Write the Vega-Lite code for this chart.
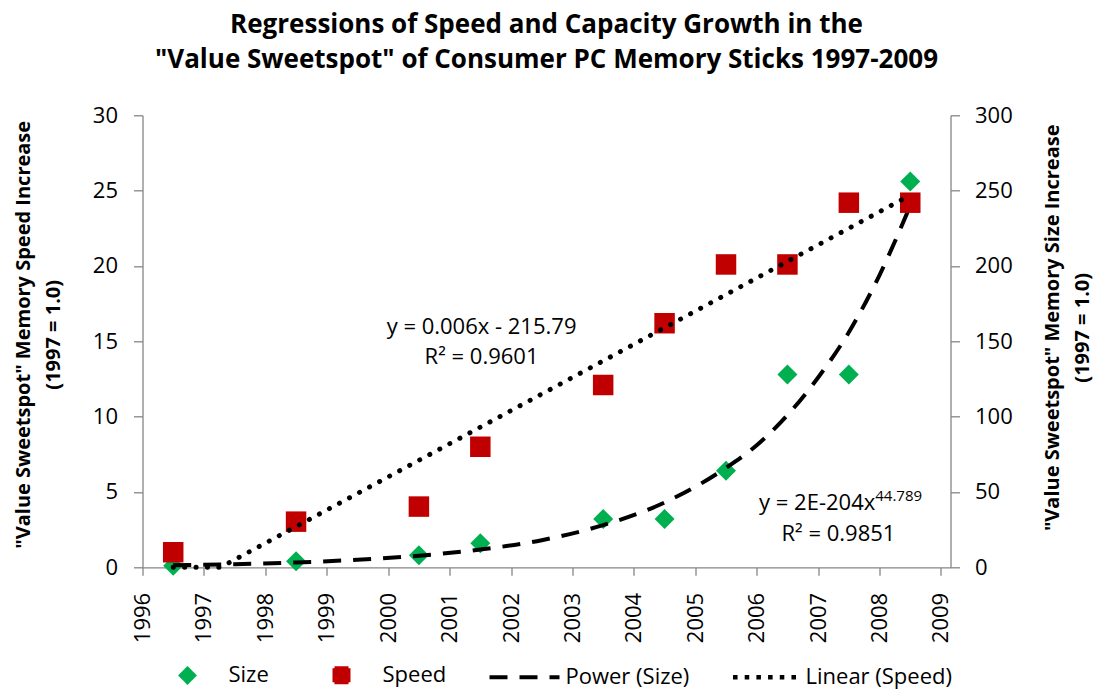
{
  "$schema": "https://vega.github.io/schema/vega-lite/v6.json",
  "width": 808,
  "height": 452,
  "autosize": {"type": "none"},
  "padding": {"left": 142.5, "top": 115.3, "right": 150.5, "bottom": 123.7},
  "background": "white",
  "config": {
    "font": "Open Sans",
    "view": {"stroke": null},
    "axis": {
      "grid": false,
      "domainColor": "#868686",
      "tickColor": "#868686",
      "domainWidth": 1.3,
      "tickWidth": 1.3,
      "labelFont": "Open Sans",
      "labelFontSize": 22,
      "labelColor": "#000000",
      "titleFont": "Open Sans",
      "titleFontSize": 20,
      "titleFontWeight": "bold",
      "titleColor": "#000000",
      "titleLineHeight": 30
    }
  },
  "title": {
    "text": ["Regressions of Speed and Capacity Growth in the", "\"Value Sweetspot\" of Consumer PC Memory Sticks 1997-2009"],
    "font": "Open Sans",
    "fontSize": 26,
    "fontWeight": "bold",
    "lineHeight": 35,
    "offset": 31,
    "anchor": "middle",
    "color": "#000000"
  },
  "datasets": {
    "points": [
      {"year": 1996.5, "speed": 1.0, "size": 1},
      {"year": 1998.5, "speed": 3.03, "size": 4},
      {"year": 2000.5, "speed": 4.03, "size": 8},
      {"year": 2001.5, "speed": 8.0, "size": 16},
      {"year": 2003.5, "speed": 12.1, "size": 32},
      {"year": 2004.5, "speed": 16.2, "size": 32},
      {"year": 2005.5, "speed": 20.1, "size": 64},
      {"year": 2006.5, "speed": 20.1, "size": 128},
      {"year": 2007.5, "speed": 24.2, "size": 128},
      {"year": 2008.5, "speed": 24.2, "size": 256}
    ],
    "power": [
      {"year": 1996.5, "size": 1.4},
      {"year": 1997.5, "size": 2.1},
      {"year": 1998.5, "size": 3.2},
      {"year": 1999.5, "size": 5.0},
      {"year": 2000.5, "size": 7.7},
      {"year": 2001.5, "size": 11.8},
      {"year": 2002.5, "size": 18},
      {"year": 2003.5, "size": 28},
      {"year": 2004.5, "size": 43},
      {"year": 2005.5, "size": 66},
      {"year": 2006.0, "size": 81},
      {"year": 2006.5, "size": 101},
      {"year": 2007.0, "size": 126},
      {"year": 2007.5, "size": 156},
      {"year": 2008.0, "size": 194},
      {"year": 2008.5, "size": 240}
    ],
    "linear": [
      {"year": 1996.5, "speed": 0},
      {"year": 1997.27, "speed": 0},
      {"year": 1998.5, "speed": 2.7},
      {"year": 2000.5, "speed": 7.1},
      {"year": 2002.5, "speed": 11.5},
      {"year": 2004.5, "speed": 15.9},
      {"year": 2006.5, "speed": 20.3},
      {"year": 2008.5, "speed": 24.7}
    ]
  },
  "layer": [
    {
      "layer": [
        {
          "data": {"name": "points"},
          "mark": {"type": "point", "shape": "diamond", "filled": true, "size": 400, "opacity": 1},
          "encoding": {
            "x": {"field": "year", "type": "quantitative", "scale": {"domain": [1996, 2009.155], "nice": false, "zero": false},
              "axis": {"values": [1996, 1997, 1998, 1999, 2000, 2001, 2002, 2003, 2004, 2005, 2006, 2007, 2008, 2009], "format": "d", "labelAngle": -90, "tickSize": 8, "labelPadding": 17, "title": null}},
            "y": {"field": "size", "type": "quantitative", "scale": {"domain": [0, 300], "nice": false},
              "axis": {"orient": "right", "values": [0, 50, 100, 150, 200, 250, 300], "tickSize": 9, "labelPadding": 15,
                "title": ["\"Value Sweetspot\" Memory Size Increase", "(1997 = 1.0)"], "titleAngle": 270, "titlePadding": 20, "titleY": 212}},
            "color": {"datum": "Size", "type": "nominal",
              "scale": {"domain": ["Size", "Speed", "Power (Size)", "Linear (Speed)"], "range": ["#00B050", "#C00000", "#000000", "#000000"]},
              "legend": {
                "title": null,
                "orient": "none",
                "legendX": 8,
                "legendY": 523,
                "direction": "horizontal",
                "symbolSize": 4900,
                "symbolStrokeWidth": 4,
                "symbolType": {"expr": "datum.value === 'Size' ? 'M0,-0.19L0.19,0L0,0.19L-0.19,0Z' : datum.value === 'Speed' ? 'M-0.2,-0.2H0.2V0.2H-0.2Z' : datum.value === 'Power (Size)' ? 'M-1,0H1' : 'M-0.9,-0.065h0.13v0.13h-0.13Z M-0.566,-0.065h0.13v0.13h-0.13Z M-0.232,-0.065h0.13v0.13h-0.13Z M0.102,-0.065h0.13v0.13h-0.13Z M0.436,-0.065h0.13v0.13h-0.13Z M0.77,-0.065h0.13v0.13h-0.13Z'"},
                "symbolStrokeColor": {"expr": "datum.value === 'Size' ? '#00B050' : datum.value === 'Speed' ? '#C00000' : datum.value === 'Power (Size)' ? '#000000' : 'transparent'"},
                "symbolDash": {"expr": "datum.value === 'Power (Size)' ? [18, 12] : datum.value === 'Linear (Speed)' ? [0, 100] : [1, 0]"},
                "symbolOpacity": 1,
                "labelFont": "Open Sans",
                "labelFontSize": 22,
                "labelColor": "#000000",
                "labelOffset": 4,
                "labelLimit": 400,
                "columnPadding": 35
              }
            }
          }
        },
        {
          "data": {"name": "power"},
          "mark": {"type": "line", "strokeWidth": 4, "strokeDash": [18, 12], "interpolate": "monotone"},
          "encoding": {
            "x": {"field": "year", "type": "quantitative"},
            "y": {"field": "size", "type": "quantitative"},
            "color": {"datum": "Power (Size)", "type": "nominal"}
          }
        }
      ]
    },
    {
      "layer": [
        {
          "data": {"name": "points"},
          "mark": {"type": "point", "shape": "square", "filled": true, "size": 420, "opacity": 1},
          "encoding": {
            "x": {"field": "year", "type": "quantitative"},
            "y": {"field": "speed", "type": "quantitative", "scale": {"domain": [0, 30], "nice": false},
              "axis": {"orient": "left", "values": [0, 5, 10, 15, 20, 25, 30], "tickSize": 9, "labelPadding": 16,
                "title": ["\"Value Sweetspot\" Memory Speed Increase", "(1997 = 1.0)"], "titleAngle": 270, "titlePadding": 29, "titleY": 219}},
            "color": {"datum": "Speed", "type": "nominal"}
          }
        },
        {
          "data": {"name": "linear"},
          "mark": {"type": "line", "strokeWidth": 5, "strokeDash": [0.1, 11.3], "strokeCap": "round"},
          "encoding": {
            "x": {"field": "year", "type": "quantitative"},
            "y": {"field": "speed", "type": "quantitative"},
            "color": {"datum": "Linear (Speed)", "type": "nominal"}
          }
        },
        {
          "data": {"values": [{"year": 2001.52, "speed": 15.95, "label": "y = 0.006x - 215.79\nR² = 0.9601"}]},
          "mark": {"type": "text", "font": "Open Sans", "fontSize": 22, "align": "center", "baseline": "middle", "lineBreak": "\n", "lineHeight": 30, "color": "#000000"},
          "encoding": {
            "x": {"field": "year", "type": "quantitative"},
            "y": {"field": "speed", "type": "quantitative"},
            "text": {"field": "label"}
          }
        },
        {
          "data": {"values": [{"year": 2007.93, "speed": 4.27, "label": "y = 2E-204x"}]},
          "mark": {"type": "text", "font": "Open Sans", "fontSize": 22, "align": "right", "baseline": "middle", "color": "#000000"},
          "encoding": {
            "x": {"field": "year", "type": "quantitative"},
            "y": {"field": "speed", "type": "quantitative"},
            "text": {"field": "label"}
          }
        },
        {
          "data": {"values": [{"year": 2007.93, "speed": 4.75, "label": "44.789"}]},
          "mark": {"type": "text", "font": "Open Sans", "fontSize": 15, "align": "left", "baseline": "middle", "color": "#000000"},
          "encoding": {
            "x": {"field": "year", "type": "quantitative"},
            "y": {"field": "speed", "type": "quantitative"},
            "text": {"field": "label"}
          }
        },
        {
          "data": {"values": [{"year": 2007.33, "speed": 2.21, "label": "R² = 0.9851"}]},
          "mark": {"type": "text", "font": "Open Sans", "fontSize": 22, "align": "center", "baseline": "middle", "color": "#000000"},
          "encoding": {
            "x": {"field": "year", "type": "quantitative"},
            "y": {"field": "speed", "type": "quantitative"},
            "text": {"field": "label"}
          }
        }
      ]
    }
  ],
  "resolve": {"scale": {"y": "independent"}}
}
